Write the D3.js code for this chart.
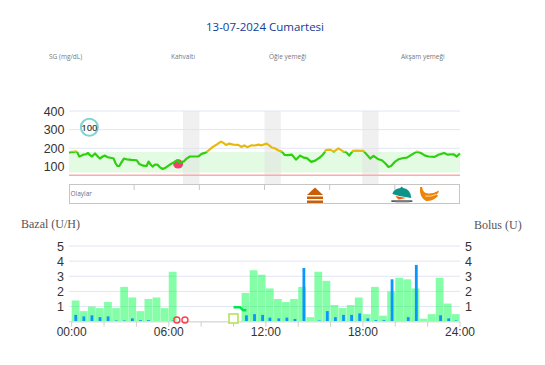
<!DOCTYPE html>
<html>
<head>
<meta charset="utf-8">
<script src="https://cdn.jsdelivr.net/npm/d3@7"></script>
<style>
    html, body { margin: 0; padding: 0; background: #fff; }
    svg { display: block; }
    text { font-family: "Open Sans", sans-serif; }
    .serif { font-family: "Liberation Serif", serif; }
    .num { font-family: "Liberation Sans", sans-serif; }
</style>
</head>
<body>
<div id="chart"></div>
<script>
const titleText = '13-07-2024 Cumartesi';
const mealLabels = ['SG (mg/dL)', 'Kahvaltı', 'Öğle yemeği', 'Akşam yemeği'];
const mealLabelX = [49, 171, 269, 401];

// Sensör glukoz: saat / değer
const sgHours = [0, .16, .31, .43, .51, .63, .78, .88, 1.04, 1.17, 1.29, 1.41, 1.6, 1.74, 1.9, 2.07, 2.21, 2.37, 2.62, 2.74, 2.86, 2.97, 3.09, 3.21, 3.37, 3.54, 3.84, 4.15, 4.31, 4.56, 4.76, 4.89, 5.01, 5.13, 5.28, 5.42, 5.58, 5.75, 5.93, 6.2, 6.4, 6.61, 6.81, 7.06, 7.22, 7.42, 7.63, 7.93, 8.14, 8.38, 8.55, 8.85, 9.1, 9.33, 9.51, 9.63, 9.84, 10.08, 10.39, 10.59, 10.76, 10.94, 11.21, 11.41, 11.62, 11.82, 12.13, 12.29, 12.45, 12.66, 12.86, 13.07, 13.23, 13.44, 13.68, 13.93, 14.19, 14.4, 14.6, 14.87, 15.11, 15.42, 15.62, 15.77, 16.03, 16.26, 16.54, 16.85, 16.99, 17.2, 17.42, 17.67, 18.08, 18.28, 18.49, 18.69, 18.95, 19.2, 19.41, 19.61, 19.77, 20.02, 20.22, 20.53, 20.74, 21.04, 21.35, 21.55, 21.86, 22.07, 22.44, 22.68, 23.03, 23.23, 23.6, 23.8, 24];
const sgValues = [177, 181, 181, 184, 177, 156, 161, 166, 168, 175, 163, 156, 172, 159, 145, 156, 161, 152, 148, 145, 120, 105, 105, 123, 145, 141, 138, 136, 116, 107, 105, 129, 113, 102, 113, 113, 98, 89, 96, 113, 123, 134, 123, 130, 145, 156, 156, 156, 170, 177, 188, 209, 222, 236, 227, 218, 225, 220, 218, 207, 216, 206, 216, 215, 220, 216, 225, 216, 204, 199, 188, 182, 165, 163, 166, 139, 161, 150, 147, 127, 134, 152, 170, 190, 193, 182, 200, 182, 181, 161, 186, 188, 186, 166, 145, 159, 143, 136, 120, 100, 105, 129, 141, 148, 150, 166, 182, 177, 161, 156, 154, 165, 175, 166, 168, 156, 172];

const sgTicks = [400, 300, 200, 100];
const sgGrid = [400, 300, 200];
const targetRange = [70, 180];
const lowLimit = 55;
const mealWindows = [[7, 8], [12, 13], [18, 19]];
const eventTicks = [4, 8, 12, 16, 20];

// Bazal: 30 dk'lık dilimler
const basalStart = [0, .5, 1, 1.5, 2, 2.5, 3, 3.5, 4, 4.5, 5, 5.5, 6, 10.5, 11, 11.5, 12, 12.5, 13, 13.5, 14, 14.5, 15, 15.5, 16, 16.5, 17, 17.5, 18, 18.5, 19, 19.5, 20, 20.5, 21, 21.5, 22, 22.5, 23, 23.5];
const basalValues = [1.4, .7, 1, .9, 1.3, .9, 2.3, 1.6, .7, 1.5, 1.6, .9, 3.3, 1.9, 3.4, 3.1, 2.2, 1.5, 1.3, 1.5, 2.3, .3, 3.3, 2.7, 1.1, .9, 1.1, 1.6, .5, 2.3, .4, 2, 2.9, 2.8, 2.2, .2, .5, 2.9, 1.2, .5];

const bolusHours = [.25, .75, 1.25, 1.75, 2.25, 2.75, 3.25, 3.75, 4.25, 4.75, 6.25, 10.8, 11.3, 11.8, 12.25, 12.8, 13.3, 13.8, 14.35, 15.3, 15.8, 16.3, 16.8, 17.3, 17.8, 18.3, 18.8, 19.3, 19.8, 20.8, 21.3, 22.8, 23.3, 23.75];
const bolusValues = [.45, .35, .42, .3, .35, .08, .08, .22, .1, .1, .07, .42, .5, .45, .27, .22, .27, .18, 3.55, .08, .7, .3, .45, .45, .55, .22, .1, .1, 2.8, .3, 3.75, .42, .22, .08];

const axisTicks = [0, 2, 4, 6, 8, 10, 12, 14, 16, 18, 20, 22, 24];
const axisLabels = ['00:00', '06:00', '12:00', '18:00', '24:00'];
const axisLabelHours = [0, 6, 12, 18, 24];
const unitTicks = [5, 4, 3, 2, 1];

const tempHours = [10, 10.4, 10.6, 10.8];
const tempValues = [.95, .95, .75, .75];
const suspendHours = [6.5, 7];
const markerSquareHour = 10;

const width = 545, height = 365;
const svg = d3.select('#chart').append('svg').attr('width', width).attr('height', height);

const xTop = d3.scaleLinear().domain([0, 24]).range([69, 460]);
const yTop = d3.scaleLinear().domain([0, 400]).range([185.6, 111]);
const xBottom = d3.scaleLinear().domain([0, 24]).range([71.7, 460]);
const yBottom = d3.scaleLinear().domain([0, 5]).range([321.7, 246]);

//Titres
svg.append('text').attr('x', 265).attr('y', 31).attr('text-anchor', 'middle')
    .attr('font-size', 11.5).attr('fill', '#103c96').text(titleText);
svg.selectAll('.meal').data(mealLabels).enter().append('text')
    .attr('x', (d, i) => mealLabelX[i]).attr('y', 59)
    .attr('font-size', 6.5).attr('fill', '#777').text(d => d);

//Graphique du haut
svg.selectAll('.sgGrid').data(sgGrid).enter().append('line')
    .attr('x1', xTop(0)).attr('x2', xTop(24))
    .attr('y1', d => yTop(d)).attr('y2', d => yTop(d))
    .attr('stroke', '#e1e6f3').attr('stroke-width', 1);
svg.append('rect').attr('x', xTop(0)).attr('width', xTop(24) - xTop(0))
    .attr('y', yTop(targetRange[1])).attr('height', yTop(targetRange[0]) - yTop(targetRange[1]))
    .attr('fill', '#e3fbe3');
svg.selectAll('.meals').data(mealWindows).enter().append('rect')
    .attr('x', d => xTop(d[0])).attr('width', d => xTop(d[1]) - xTop(d[0]))
    .attr('y', yTop(400)).attr('height', 185 - yTop(400))
    .attr('fill', '#e2e2e2').attr('opacity', .5);
svg.append('line').attr('x1', xTop(0)).attr('x2', xTop(24))
    .attr('y1', yTop(lowLimit)).attr('y2', yTop(lowLimit))
    .attr('stroke', '#ffaaaa').attr('stroke-width', 1.5);
svg.selectAll('.sgTick').data(sgTicks).enter().append('text')
    .attr('class', 'num')
    .attr('x', 64.5).attr('y', d => yTop(d) + 4.5).attr('text-anchor', 'end')
    .attr('font-size', 12.5).attr('fill', '#333').text(d => d);

//Tomate (petit-déjeuner), sous la courbe
const tomato = svg.append('g').attr('transform', `translate(${xTop(6.7)} ${yTop(116)})`);
tomato.append('ellipse').attr('rx', 5).attr('ry', 4.6).attr('fill', '#f2416c');
tomato.append('path').attr('d', 'M-3 -2.5 L0 -4.5 L3 -2.5 L0 -1.5Z').attr('fill', '#2ecf0c');

//Courbe : jaune au dessus de la cible, verte en dessous
const defs = svg.append('defs');
defs.append('clipPath').attr('id', 'above').append('rect')
    .attr('x', 60).attr('width', 410).attr('y', 100).attr('height', yTop(targetRange[1]) - 100);
defs.append('clipPath').attr('id', 'below').append('rect')
    .attr('x', 60).attr('width', 410).attr('y', yTop(targetRange[1])).attr('height', 40);
const sgLine = d3.line().x(d => xTop(d)).y((d, i) => yTop(sgValues[i]));
[['above', '#e8b90a'], ['below', '#2ecf0c']].forEach(([clip, color]) => {
    svg.append('path').datum(sgHours).attr('d', sgLine)
        .attr('clip-path', `url(#${clip})`)
        .attr('fill', 'none').attr('stroke', color).attr('stroke-width', 2.2)
        .attr('stroke-linejoin', 'round');
});

//Badge 100
const badge = svg.append('g').attr('transform', `translate(${xTop(1.25)} ${yTop(313)})`);
badge.append('circle').attr('r', 8.5).attr('fill', '#fff').attr('stroke', '#7fd6ca').attr('stroke-width', 2);
badge.append('text').attr('y', 3.4).attr('text-anchor', 'middle').attr('font-size', 9.5)
    .attr('font-weight', 600).attr('fill', '#444').text('100');

//Bandeau des événements
svg.append('rect').attr('x', 69.5).attr('y', 184.5).attr('width', 390).attr('height', 19)
    .attr('fill', 'none').attr('stroke', '#c6c6c6').attr('stroke-width', 1);
svg.selectAll('.eventTick').data(eventTicks).enter().append('line')
    .attr('x1', d => xTop(d)).attr('x2', d => xTop(d)).attr('y1', 185).attr('y2', 190)
    .attr('stroke', '#c6c6c6');
svg.append('text').attr('x', 70.5).attr('y', 196).attr('font-size', 6.5).attr('fill', '#6b6b8a').text('Olaylar');

//Icônes de repas
const cake = svg.append('g').attr('transform', `translate(${xTop(15.1)} 187)`);
cake.append('path').attr('d', 'M-8 8 L0 0.5 L8 8Z').attr('fill', '#c85f08');
cake.append('rect').attr('x', -8).attr('y', 9.5).attr('width', 16).attr('height', 2.5).attr('fill', '#c85f08');
cake.append('rect').attr('x', -8).attr('y', 13.5).attr('width', 16).attr('height', 2.5).attr('fill', '#c85f08');

const cloche = svg.append('g').attr('transform', `translate(${xTop(20.4)} 187)`);
cloche.append('path').attr('d', 'M-9 7 Q-8 2 -1 1 L0 -0.5 L2 1 Q9 2 10 11 L-2 9Z').attr('fill', '#0c9486');
cloche.append('path').attr('d', 'M-6 9 L5 11 L-3 12.5Z').attr('fill', '#f25a10');
cloche.append('rect').attr('x', -10).attr('y', 13.5).attr('width', 21).attr('height', 1.2).attr('fill', '#111');
cloche.append('rect').attr('x', -6).attr('y', 14.7).attr('width', 14).attr('height', 1.3).attr('fill', '#ccc');

const banana = svg.append('g').attr('transform', `translate(${xTop(22.1)} 186)`);
banana.append('path')
    .attr('d', 'M-9 1 L-7 1 Q-6 8 0 7.5 Q6 7 10 4.5 Q10 7 7 8.5 Q10 9 8 11 Q3 15.5 -3 15 Q-10 11 -9 1Z')
    .attr('fill', '#ef8208');
banana.append('path').attr('d', 'M-4 10 Q2 11 7 8.5').attr('fill', 'none').attr('stroke', '#fff').attr('stroke-width', .7);

//Graphique du bas
svg.selectAll('.unitGrid').data(unitTicks).enter().append('line')
    .attr('x1', 69).attr('x2', 460)
    .attr('y1', d => yBottom(d)).attr('y2', d => yBottom(d))
    .attr('stroke', '#e1e6f3').attr('stroke-width', 1);
svg.append('text').attr('class', 'serif').attr('x', 21).attr('y', 228)
    .attr('font-size', 12).attr('fill', '#555').text('Bazal (U/H)');
svg.append('text').attr('class', 'serif').attr('x', 474).attr('y', 229)
    .attr('font-size', 12).attr('fill', '#555').text('Bolus (U)');
svg.selectAll('.unitLeft').data(unitTicks).enter().append('text')
    .attr('class', 'num')
    .attr('x', 64).attr('y', d => yBottom(d) + 4.5).attr('text-anchor', 'end')
    .attr('font-size', 12.5).attr('fill', '#333').text(d => d);
svg.selectAll('.unitRight').data(unitTicks).enter().append('text')
    .attr('class', 'num')
    .attr('x', 465).attr('y', d => yBottom(d) + 4.5)
    .attr('font-size', 12.5).attr('fill', '#333').text(d => d);

svg.selectAll('.basal').data(basalStart).enter().append('rect')
    .attr('x', d => xBottom(d)).attr('width', d => xBottom(d + .5) - xBottom(d) - .3)
    .attr('y', (d, i) => yBottom(basalValues[i]))
    .attr('height', (d, i) => yBottom(0) - yBottom(basalValues[i]))
    .attr('fill', '#00ff48').attr('opacity', .48);
svg.selectAll('.bolus').data(bolusHours).enter().append('rect')
    .attr('x', d => xBottom(d) - 1.4).attr('width', 2.8)
    .attr('y', (d, i) => yBottom(bolusValues[i]))
    .attr('height', (d, i) => yBottom(0) - yBottom(bolusValues[i]))
    .attr('fill', '#0a96ff');

svg.append('line').attr('x1', 69).attr('x2', 460).attr('y1', yBottom(0)).attr('y2', yBottom(0))
    .attr('stroke', '#dcdcdc').attr('stroke-width', 1.5);
svg.selectAll('.hourTick').data(axisTicks).enter().append('line')
    .attr('x1', d => xBottom(d)).attr('x2', d => xBottom(d))
    .attr('y1', yBottom(0)).attr('y2', yBottom(0) + 5)
    .attr('stroke', '#cfcfcf');
svg.selectAll('.hourLabel').data(axisLabels).enter().append('text')
    .attr('class', 'num')
    .attr('x', (d, i) => xBottom(axisLabelHours[i])).attr('y', 336)
    .attr('text-anchor', 'middle').attr('font-size', 12).attr('fill', '#333').text(d => d);

//Marqueurs
svg.selectAll('.suspend').data(suspendHours).enter().append('circle')
    .attr('cx', d => xBottom(d)).attr('cy', 320).attr('r', 3)
    .attr('fill', 'none').attr('stroke', '#f5404a').attr('stroke-width', 1.4);
svg.append('rect').attr('x', xBottom(markerSquareHour) - 4.5).attr('y', 314).attr('width', 9).attr('height', 9)
    .attr('fill', '#fff').attr('stroke', '#bfe36e').attr('stroke-width', 1.8);
svg.append('path').datum(tempHours)
    .attr('d', d3.line().x(d => xBottom(d)).y((d, i) => yBottom(tempValues[i])))
    .attr('fill', 'none').attr('stroke', '#00e64d').attr('stroke-width', 2.5);
</script>
</body>
</html>
